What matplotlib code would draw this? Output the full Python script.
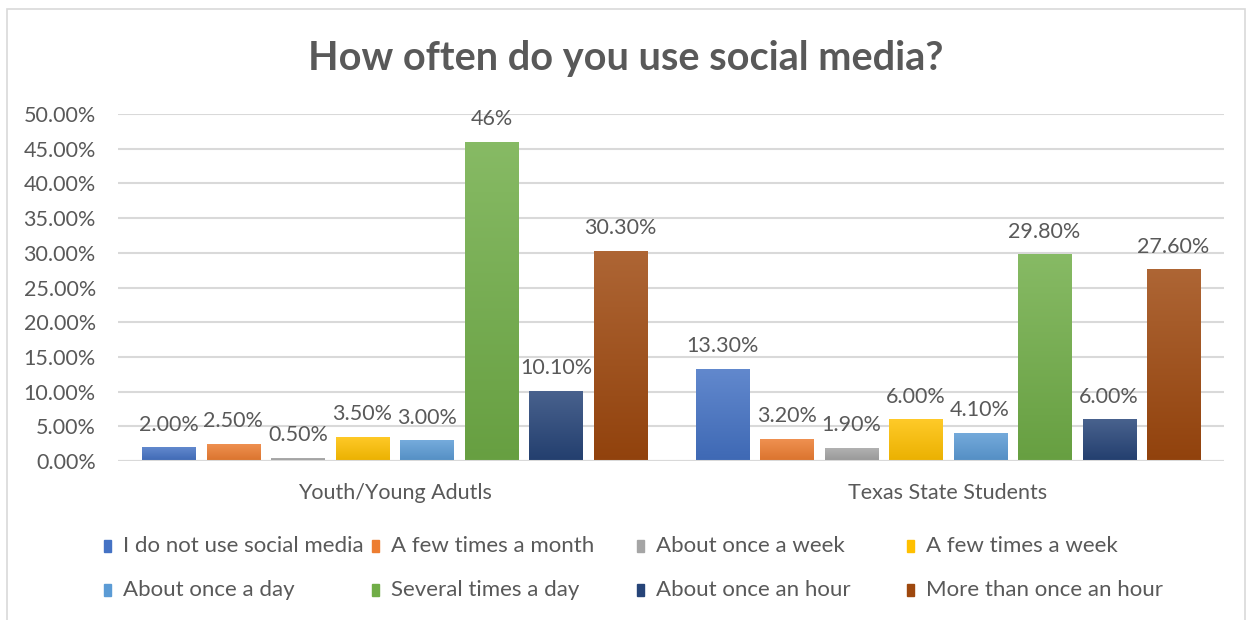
import numpy as np
import matplotlib.pyplot as plt
from matplotlib.colors import to_rgb
from matplotlib.patches import Rectangle
from matplotlib.ticker import PercentFormatter

groups = ['Youth/Young Adutls', 'Texas State Students']
answers = ['I do not use social media', 'A few times a month', 'About once a week',
           'A few times a week', 'About once a day', 'Several times a day',
           'About once an hour', 'More than once an hour']
youth = [2.0, 2.5, 0.5, 3.5, 3.0, 46.0, 10.1, 30.3]
texas = [13.3, 3.2, 1.9, 6.0, 4.1, 29.8, 6.0, 27.6]
youth_labels = ['2.00%', '2.50%', '0.50%', '3.50%', '3.00%', '46%', '10.10%', '30.30%']
texas_labels = ['13.30%', '3.20%', '1.90%', '6.00%', '4.10%', '29.80%', '6.00%', '27.60%']
colors = ['#4472C4', '#ED7D31', '#A5A5A5', '#FFC000',
          '#5B9BD5', '#70AD47', '#264478', '#9E480E']

FONT = 'Lato'
TXT = '#595959'
FS = 15.5
plt.rcParams['font.family'] = [FONT, 'DejaVu Sans']


def shade(c, t):
    # t > 0 mixes toward white, t < 0 toward black
    c = np.array(to_rgb(c))
    return c + (1 - c) * t if t > 0 else c * (1 + t)


def gradient_bar(ax, patch, color):
    x0, y0 = patch.get_x(), patch.get_y()
    w, h = patch.get_width(), patch.get_height()
    top, bottom = shade(color, 0.16), shade(color, -0.08)
    ramp = np.linspace(0, 1, 64)[:, None, None]
    img = bottom * (1 - ramp) + top * ramp
    im = ax.imshow(img, extent=(x0, x0 + w, y0, y0 + h), origin='lower',
                   aspect='auto', zorder=3, interpolation='bilinear')
    im.set_clip_path(patch)
    patch.set_alpha(0)


fig = plt.figure(figsize=(12.52, 6.2), dpi=100)
ax = fig.add_axes([0.0943, 0.2565, 0.8837, 0.5595])

x = np.arange(len(groups))
step = 0.1166
width = 0.096
for i, (name, col) in enumerate(zip(answers, colors)):
    vals = [youth[i], texas[i]]
    labs = [youth_labels[i], texas_labels[i]]
    pos = x + (i - 3.5) * step
    bars = ax.bar(pos, vals, width, color=col, label=name, zorder=3)
    for b, lab in zip(bars, labs):
        gradient_bar(ax, b, col)
        ax.annotate(lab, (b.get_x() + b.get_width() / 2, b.get_height()),
                    xytext=(0, 9), textcoords='offset points',
                    ha='center', va='bottom', fontsize=FS, color=TXT)

ax.set_xlim(-0.5, 1.5)
ax.set_ylim(0, 50)
ax.set_yticks(np.arange(0, 51, 5))
ax.yaxis.set_major_formatter(PercentFormatter(decimals=2))
ax.set_xticks(x)
ax.set_xticklabels(groups)
ax.tick_params(axis='both', length=0, labelsize=FS, labelcolor=TXT)
ax.tick_params(axis='y', pad=16)
ax.tick_params(axis='x', pad=16)
ax.grid(axis='y', color='#D9D9D9', lw=1.5, zorder=0)
for s in ax.spines.values():
    s.set_visible(False)
ax.axhline(0, color='#D9D9D9', lw=1.5, zorder=4)

fig.text(0.5, 0.905, 'How often do you use social media?', ha='center', va='center',
         fontsize=28.5, fontweight='bold', color=TXT)

# legend laid out row by row in four fixed-width columns
col_x = [104, 372, 637, 907]
row_y = [546, 590]
for i, (name, col) in enumerate(zip(answers, colors)):
    px, py = col_x[i % 4], row_y[i // 4]
    fig.patches.append(Rectangle((px / 1252, 1 - (py + 6) / 620), 7 / 1252, 12 / 620,
                                 transform=fig.transFigure, color=col))
    fig.text((px + 19) / 1252, 1 - py / 620, name, ha='left', va='center',
             fontsize=16, color=TXT)

# chart border
fig.patches.append(Rectangle((7 / 1252, -0.05), 1238 / 1252, 1.05 - 9 / 620,
                             transform=fig.transFigure, fill=False,
                             edgecolor='#D9D9D9', lw=1.2))

fig.savefig('out.png', dpi=100)
